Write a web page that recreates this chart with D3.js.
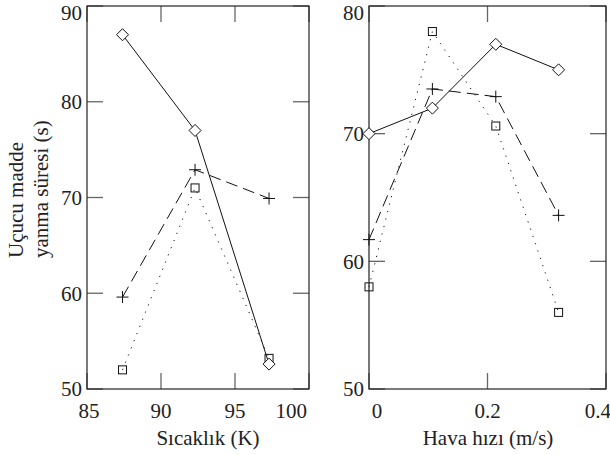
<!DOCTYPE html>
<html><head><meta charset="utf-8">
<script src="https://cdn.jsdelivr.net/npm/d3@7"></script>
<style>body{margin:0;background:#fff}svg{display:block}</style>
</head><body><svg id="c" width="610" height="455"></svg>
<script>
// Left panel: temperature
const tempX = [87.4, 92.3, 97.3];
const tempDiamond = [87.0, 77.0, 52.6];
const tempPlus = [59.6, 72.9, 69.9];
const tempSquare = [52.0, 71.0, 53.2];
const tempXTicks = [85, 90, 95, 100];
const tempYTicks = [50, 60, 70, 80, 90];
// Right panel: air speed
const airX = [0, 0.107, 0.214, 0.32];
const airDiamond = [70.0, 72.0, 77.0, 75.0];
const airPlus = [61.7, 73.5, 72.9, 63.6];
const airSquare = [58.0, 78.0, 70.6, 56.0];
const airXTicks = [0, 0.2, 0.4];
const airXTickLabels = ["0", "0.2", "0.4"];
const airYTicks = [50, 60, 70, 80];
const yTitle = ["Uçucu madde", "yanma süresi (s)"];

const svg = d3.select("#c");
const FS = 21;
function txt(sel) {
  return sel.append("text")
    .attr("font-family", "Liberation Serif")
    .style("font", `${FS}px "Liberation Serif", Tinos, "Times New Roman"`)
    .attr("fill", "#222");
}

function panel(o) {
  const g = svg.append("g");
  const x = d3.scaleLinear().domain(o.xDomain).range([o.left, o.right]);
  const y = d3.scaleLinear().domain(o.yDomain).range([o.bottom, o.top]);
  const tl = 16;
  const tg = g.append("g").attr("stroke", "#666").attr("stroke-width", 1.3);
  o.xTicks.forEach(v => {
    const px = x(v);
    tg.append("line").attr("x1", px).attr("x2", px).attr("y1", o.bottom).attr("y2", o.bottom - tl);
    tg.append("line").attr("x1", px).attr("x2", px).attr("y1", o.top).attr("y2", o.top + tl);
  });
  o.yTicks.forEach(v => {
    const py = y(v);
    tg.append("line").attr("x1", o.left).attr("x2", o.left + tl).attr("y1", py).attr("y2", py);
    tg.append("line").attr("x1", o.right).attr("x2", o.right - tl).attr("y1", py).attr("y2", py);
  });
  g.append("rect").attr("x", o.left).attr("y", o.top).attr("width", o.right - o.left).attr("height", o.bottom - o.top)
    .attr("fill", "none").attr("stroke", "#222").attr("stroke-width", 1.2);
  o.xTicks.forEach((v, i) => {
    let px = x(v), anchor = "middle";
    if (i === 0) { px = o.left + o.firstShift; }
    if (i === o.xTicks.length - 1) { px = o.lastEnd; anchor = "end"; }
    txt(g).attr("x", px).attr("y", 418).attr("text-anchor", anchor).text(o.xLabels ? o.xLabels[i] : v);
  });
  o.yTicks.forEach(v => {
    const py = Math.max(y(v), o.top + 7);
    txt(g).attr("x", o.left - 5).attr("y", py).attr("dy", "0.35em").attr("text-anchor", "end").text(v);
  });
  txt(g).attr("x", o.titleX).attr("y", 445).attr("text-anchor", "middle").text(o.xTitle);

  const line = d3.line().x(d => x(d[0])).y(d => y(d[1]));
  const mk = (xs, ys) => xs.map((v, i) => [v, ys[i]]);
  const sets = [
    {data: mk(o.xs, o.sq), dash: "1.2,6.5", m: "square"},
    {data: mk(o.xs, o.pl), dash: "12,6", m: "plus"},
    {data: mk(o.xs, o.di), dash: null, m: "diamond"}
  ];
  sets.forEach(s => {
    g.append("path").attr("d", line(s.data)).attr("fill", "none").attr("stroke", "#111")
      .attr("stroke-width", 1).attr("stroke-dasharray", s.dash);
    s.data.forEach(d => {
      const cx = x(d[0]), cy = y(d[1]);
      if (s.m === "diamond") {
        g.append("path").attr("d", `M${cx},${cy-6}L${cx+6},${cy}L${cx},${cy+6}L${cx-6},${cy}Z`)
          .attr("fill", "#fff").attr("stroke", "#111").attr("stroke-width", 1);
      } else if (s.m === "square") {
        g.append("rect").attr("x", cx - 4).attr("y", cy - 4).attr("width", 8).attr("height", 8)
          .attr("fill", "none").attr("stroke", "#111").attr("stroke-width", 1);
      } else {
        g.append("path").attr("d", `M${cx-6},${cy}H${cx+6}M${cx},${cy-6}V${cy+6}`)
          .attr("stroke", "#111").attr("stroke-width", 1);
      }
    });
  });
}

panel({left: 87, right: 309, top: 6, bottom: 389, xDomain: [85, 100], yDomain: [50, 90],
  xTicks: tempXTicks, yTicks: tempYTicks, firstShift: 2, lastEnd: 307, titleX: 208,
  xTitle: "Sıcaklık (K)", xs: tempX, di: tempDiamond, pl: tempPlus, sq: tempSquare});
panel({left: 369, right: 606, top: 6, bottom: 389, xDomain: [0, 0.4], yDomain: [50, 80],
  xTicks: airXTicks, xLabels: airXTickLabels, yTicks: airYTicks, firstShift: 8, lastEnd: 611, titleX: 488,
  xTitle: "Hava hızı (m/s)", xs: airX, di: airDiamond, pl: airPlus, sq: airSquare});

const yt = svg.append("g").attr("transform", "translate(0,258) rotate(-90)");
yTitle.forEach((t, i) => {
  txt(yt).attr("x", 0).attr("y", 23 + i * 25).attr("text-anchor", "start").text(t);
});
</script></body></html>
